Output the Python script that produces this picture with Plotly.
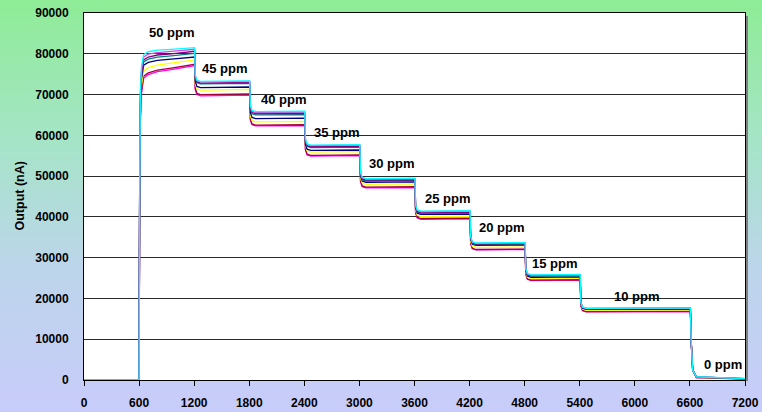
import plotly.graph_objects as go

# ---------------- data ----------------
time_s = [0, 600, 606, 614, 627, 650, 700, 800, 950, 1100, 1205,
          1212, 1230, 1270, 1805,
          1812, 1830, 1870, 2405,
          2412, 2430, 2470, 3005,
          3012, 3030, 3070, 3605,
          3612, 3630, 3670, 4205,
          4212, 4230, 4270, 4805,
          4812, 4830, 4870, 5405,
          5412, 5430, 5470, 6605,
          6615, 6630, 6670, 7200]

s_cyan = [0, 0, 45000, 71000, 77000, 79800, 80500, 80900, 81100, 81300, 81500,
          74700, 73500, 73200, 73350,
          67300, 66100, 65800, 65900,
          59100, 57900, 57600, 57700,
          50900, 49700, 49400, 49500,
          42900, 41700, 41400, 41500,
          35100, 33900, 33600, 33700,
          27300, 26100, 25800, 25900,
          19100, 17900, 17600, 17700,
          9000, 2500, 800, 350]
s_pink = [0, 0, 45000, 70000, 76300, 79200, 79900, 80300, 80600, 80900, 81100,
          74600, 73400, 73100, 73250,
          67100, 65900, 65600, 65700,
          59000, 57800, 57500, 57600,
          50800, 49600, 49300, 49400,
          42800, 41600, 41300, 41400,
          35000, 33800, 33500, 33600,
          27200, 26000, 25700, 25800,
          19050, 17850, 17550, 17650,
          9000, 2500, 780, 340]
s_purple = [0, 0, 45000, 69000, 75500, 78500, 79200, 79700, 80000, 80300, 80600,
            74300, 73100, 72800, 72950,
            66800, 65600, 65300, 65400,
            58700, 57500, 57200, 57300,
            50500, 49300, 49000, 49100,
            42500, 41300, 41000, 41100,
            34800, 33600, 33300, 33400,
            27100, 25900, 25600, 25700,
            19000, 17800, 17500, 17600,
            9000, 2500, 760, 330]
s_teal = [0, 0, 45000, 68500, 75000, 78000, 78700, 79200, 79500, 79800, 80100,
          74100, 72900, 72600, 72750,
          66500, 65300, 65000, 65100,
          58500, 57300, 57000, 57100,
          50300, 49100, 48800, 48900,
          42400, 41200, 40900, 41000,
          34700, 33500, 33200, 33300,
          27000, 25800, 25500, 25600,
          18950, 17750, 17450, 17550,
          9000, 2500, 740, 320]
s_navy = [0, 0, 44000, 67500, 74000, 77200, 77900, 78400, 78700, 79000, 79200,
          73200, 72000, 71700, 71850,
          65600, 64400, 64100, 64200,
          57800, 56600, 56300, 56400,
          50000, 48800, 48500, 48600,
          42100, 40900, 40600, 40700,
          34500, 33300, 33000, 33100,
          26700, 25500, 25200, 25300,
          18800, 17600, 17300, 17400,
          9000, 2500, 700, 300]
s_yellow = [0, 0, 43000, 66000, 72500, 75800, 76600, 77200, 77700, 78100, 78500,
            72600, 71400, 71100, 71250,
            64800, 63600, 63300, 63400,
            57400, 56200, 55900, 56000,
            49500, 48300, 48000, 48100,
            41600, 40400, 40100, 40200,
            34000, 32800, 32500, 32600,
            26400, 25200, 24900, 25000,
            18600, 17400, 17100, 17200,
            9000, 2500, 660, 280]
s_darkred = [0, 0, 42000, 64500, 71000, 74500, 75300, 76000, 76500, 77000, 77400,
             71500, 70300, 70000, 70150,
             64000, 62800, 62500, 62600,
             56600, 55400, 55100, 55200,
             48800, 47600, 47300, 47400,
             41100, 39900, 39600, 39700,
             33500, 32300, 32000, 32100,
             26000, 24800, 24500, 24600,
             18300, 17100, 16800, 16900,
             9000, 2500, 600, 260]
s_magenta = [0, 0, 41000, 63500, 70500, 74000, 74900, 75600, 76100, 76700, 77100,
             71200, 70000, 69700, 69850,
             63800, 62600, 62300, 62400,
             56400, 55200, 54900, 55000,
             48600, 47400, 47100, 47200,
             40900, 39700, 39400, 39500,
             33400, 32200, 31900, 32000,
             25900, 24700, 24400, 24500,
             18200, 17000, 16700, 16800,
             9000, 2500, 580, 250]

series_values = [s_magenta, s_darkred, s_yellow, s_navy, s_teal, s_purple, s_pink, s_cyan]
series_colors = ["#FF00FF", "#A8003A", "#FFFF00", "#000080", "#008080", "#800080", "#E040E0", "#00FFFF"]

label_text = ["50 ppm", "45 ppm", "40 ppm", "35 ppm", "30 ppm",
              "25 ppm", "20 ppm", "15 ppm", "10 ppm", "0 ppm"]
label_x = [958, 1536, 2179, 2756, 3355, 3965, 4553, 5131, 6024, 6961]
label_y = [85100, 76500, 68700, 60800, 53200, 44600, 37500, 28500, 20400, 3700]

x_ticks = list(range(0, 7201, 600))
y_ticks = list(range(0, 90001, 10000))

# ---------------- figure ----------------
W, H = 762, 412
ML, MR, MT, MB = 84, 17, 13, 32
PW, PH = W - ML - MR, H - MT - MB
FONT = "Liberation Sans, Arial, sans-serif"

fig = go.Figure()
for vals, col in zip(series_values, series_colors):
    fig.add_trace(go.Scatter(x=time_s, y=vals, mode="lines",
                             line=dict(color=col, width=1.3),
                             hoverinfo="skip", showlegend=False))

# background gradient (paper) made of thin strips
stops = [(0.0, (142, 236, 150)), (0.35, (166, 228, 200)),
         (0.65, (188, 213, 234)), (1.0, (200, 204, 250))]

def grad(f):
    for (f0, c0), (f1, c1) in zip(stops[:-1], stops[1:]):
        if f0 <= f <= f1:
            t = (f - f0) / (f1 - f0)
            return "rgb(%d,%d,%d)" % tuple(round(a + (b - a) * t) for a, b in zip(c0, c1))
    return "rgb(%d,%d,%d)" % stops[-1][1]

N = 103
shapes = []
y_top = 1 + MT / PH
y_bot = -MB / PH
x_l = -ML / PW
x_r = 1 + MR / PW
for i in range(N):
    f = (i + 0.5) / N
    ya = y_top - (y_top - y_bot) * i / N
    yb = y_top - (y_top - y_bot) * (i + 1) / N
    shapes.append(dict(type="rect", xref="paper", yref="paper", layer="below",
                       x0=x_l, x1=x_r, y0=yb - 0.002, y1=ya + 0.002,
                       line=dict(width=0), fillcolor=grad(f)))
# shadow on the right of the plot area
shapes.append(dict(type="rect", xref="paper", yref="paper", layer="below",
                   x0=1, x1=1 + 3 / PW, y0=-1 / PH, y1=1 - 3 / PH,
                   line=dict(width=0), fillcolor="#808080"))
# white plot area
shapes.append(dict(type="rect", xref="paper", yref="paper", layer="below",
                   x0=0, x1=1, y0=0, y1=1, line=dict(width=0), fillcolor="white"))

annotations = [dict(x=xx, y=yy, text="<b>%s</b>" % tt, showarrow=False,
                    xref="x", yref="y",
                    font=dict(family=FONT, size=13, color="black"))
               for tt, xx, yy in zip(label_text, label_x, label_y)]
annotations.append(dict(x=-ML / PW + 19 / PW, y=0.5, xref="paper", yref="paper",
                        xanchor="center", yanchor="middle",
                        text="<b>Output (nA)</b>", showarrow=False, textangle=-90,
                        font=dict(family=FONT, size=12.5, color="black")))

tickfont = dict(family=FONT, size=12, color="black")
fig.update_layout(
    width=W, height=H,
    margin=dict(l=ML, r=MR, t=MT, b=MB, pad=0, autoexpand=False),
    paper_bgcolor="white", plot_bgcolor="white",
    shapes=shapes, annotations=annotations,
    showlegend=False, hovermode=False,
    xaxis=dict(range=[0, 7200], tickvals=x_ticks, automargin=False,
               ticktext=["<b>%d</b>" % v for v in x_ticks],
               showgrid=False, zeroline=False,
               showline=True, linecolor="black", linewidth=1, mirror=True,
               ticks="outside", ticklen=5, tickcolor="black", tickwidth=1,
               ticklabelstandoff=7, tickfont=tickfont),
    yaxis=dict(range=[0, 90000], tickvals=y_ticks, automargin=False,
               ticktext=["<b>%d</b>" % v for v in y_ticks],
               showgrid=True, gridcolor="#2a2a2a", gridwidth=1, zeroline=False,
               showline=True, linecolor="black", linewidth=1, mirror=True,
               ticks="", ticklabelstandoff=12, tickfont=tickfont),
)

fig.write_html("out.html")
